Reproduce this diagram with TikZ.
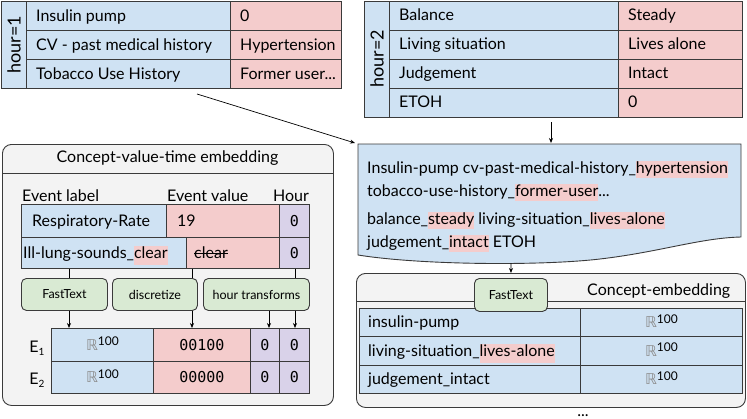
\documentclass[tikz,border=0pt]{standalone}
\usepackage{fontspec}
\setmainfont{Lato}
\setmonofont{DejaVu Sans Mono}
\newfontfamily\dvs{DejaVu Sans}
\usetikzlibrary{arrows.meta}
\definecolor{cblue}{HTML}{CFE2F3}
\definecolor{cpink}{HTML}{F4CCCC}
\definecolor{cpurp}{HTML}{D9D2E9}
\definecolor{cgreen}{HTML}{D9EAD3}
\definecolor{cgray}{HTML}{F3F3F3}
\definecolor{lineC}{HTML}{3A3A3A}
\newcommand\hl[1]{{\setlength{\fboxsep}{0pt}\colorbox{cpink}{\rule[-5pt]{0pt}{17pt}#1}}}
\newcommand\hlx[1]{{\setlength{\fboxsep}{0pt}\colorbox{cpink}{\rule[-6.5pt]{0pt}{19pt}#1}}}
\newcommand\strk[1]{\setbox0\hbox{#1}\rlap{\rule[4.2pt]{\wd0}{0.8pt}}\box0}
\newcommand\Rh{{\color{black!45}\fontsize{15}{15}\dvs ℝ}\raisebox{4.5pt}{\fontsize{12}{12}\selectfont 100}}
\newcommand\mono[1]{{\fontsize{15}{15}\ttfamily #1}}
\tikzset{
  cellbox/.style={draw=lineC, line width=0.9pt, rectangle, inner sep=0pt, anchor=north west},
  ctext/.style={inner sep=0pt, font=\fontsize{16}{19}\selectfont},
  greenbox/.style={draw=lineC, fill=cgreen, line width=0.9pt, rounded corners=5pt, inner sep=0pt, anchor=north west, font=\fontsize{12.5}{14}\selectfont},
  panel/.style={draw=lineC, fill=cgray, line width=0.9pt, rounded corners=9pt, inner sep=0pt, anchor=north west},
  arr/.style={-{Stealth[length=5pt,width=4pt]}, line width=0.7pt, draw=black},
  conn/.style={line width=0.7pt, draw=black},
}
\newcommand\cellL[8]{%
  \node[cellbox, fill=#6, minimum width=#4pt, minimum height=#5pt] (#1) at (#2,#3) {};
  \node[ctext, anchor=base west] (#1t) at ([xshift=#7pt, yshift=-5.5pt]#1.west) {#8};}
\newcommand\cellC[7]{%
  \node[cellbox, fill=#6, minimum width=#4pt, minimum height=#5pt] (#1) at (#2,#3) {};
  \node[ctext, anchor=base] (#1t) at ([yshift=-5.5pt]#1.center) {#7};}
\begin{document}
\begin{tikzpicture}[x=1pt, y=-1pt]
\useasboundingbox (0,0) rectangle (747,418);

% ---------- top-left table (hour=1)
\node[cellbox, fill=cblue, minimum width=25pt, minimum height=87pt] (h1) at (1,0.5) {};
\node[ctext, rotate=90, font=\fontsize{18}{20}\selectfont] (h1t) at (h1.center) {hour=1};
\cellL{a1}{26}{0.5}{204}{29.5}{cblue}{10}{Insulin pump}
\cellL{a2}{26}{30}{204}{29}{cblue}{10}{CV - past medical history}
\cellL{a3}{26}{59}{204}{28.5}{cblue}{10}{Tobacco Use History}
\cellL{b1}{230}{0.5}{111}{29.5}{cpink}{10}{0}
\cellL{b2}{230}{30}{111}{29}{cpink}{10}{Hypertension}
\cellL{b3}{230}{59}{111}{28.5}{cpink}{10}{Former user...}

% ---------- top-right table (hour=2)
\node[cellbox, fill=cblue, minimum width=25pt, minimum height=116pt] (h2) at (364,0.5) {};
\node[ctext, rotate=90, font=\fontsize{18}{20}\selectfont] (h2t) at (h2.center) {hour=2};
\cellL{c1}{389}{0.5}{229}{29}{cblue}{10}{Balance}
\cellL{c2}{389}{29.5}{229}{29}{cblue}{10}{Living situation}
\cellL{c3}{389}{58.5}{229}{29}{cblue}{10}{Judgement}
\cellL{c4}{389}{87.5}{229}{29}{cblue}{10}{ETOH}
\cellL{d1}{618}{0.5}{124}{29}{cpink}{10}{Steady}
\cellL{d2}{618}{29.5}{124}{29}{cpink}{10}{Lives alone}
\cellL{d3}{618}{58.5}{124}{29}{cpink}{10}{Intact}
\cellL{d4}{618}{87.5}{124}{29}{cpink}{10}{0}

% ---------- document shape
\path[draw=lineC, fill=cblue, line width=0.9pt] (358,144) -- (741,144) -- (741,237)
  .. controls (700,238) and (660,252) .. (600,259)
  .. controls (540,266) and (420,265) .. (358,255) -- cycle;
\node[ctext, anchor=north west, align=left, font=\fontsize{16}{23}\selectfont] (doct) at (367,161)
  {Insulin-pump cv-past-medical-history\_\hl{hypertension}\\
   tobacco-use-history\_\hl{former-user}...\\[5pt]
   balance\_\hl{steady} living-situation\_\hl{lives-alone}\\
   judgement\_\hl{intact} ETOH};
\coordinate (docTL) at (355,143);
\coordinate (docT) at (551,143);
\coordinate (docB) at (511,263);
\coordinate (t1out) at (197,94);
\coordinate (t2out) at (551,122);

% ---------- concept-value-time embedding panel
\node[panel, minimum width=331pt, minimum height=261pt] (cvt) at (2,144) {};
\draw[draw=lineC, line width=0.9pt] (2,173) -- (333,173);
\node[ctext] (cvtt) at (167.5,158.5) {Concept-value-time embedding};
\node[ctext, anchor=base west] (hdl) at (22,201) {Event label};
\node[ctext, anchor=base west] (hdv) at (167,201) {Event value};
\node[ctext, anchor=base east] (hdh) at (309,201) {Hour};

\cellL{r1a}{21}{204}{145}{33}{cblue}{11}{Respiratory-Rate}
\cellL{r1b}{166}{204}{113}{33}{cpink}{11}{19}
\cellC{r1c}{279}{204}{30}{33}{cpurp}{\mono{0}}
\cellL{r2a}{21}{237}{165}{31}{cblue}{2}{Ill-lung-sounds\_\hlx{clear}}
\cellL{r2b}{186}{237}{93}{31}{cpink}{8}{\strk{clear}}
\cellC{r2c}{279}{237}{30}{31}{cpurp}{\mono{0}}

\node[greenbox, minimum width=86pt, minimum height=32pt] (ft1) at (21,278) {FastText};
\node[greenbox, minimum width=85pt, minimum height=32pt] (disc) at (112,278) {discretize};
\node[greenbox, minimum width=106pt, minimum height=32pt] (ht) at (203,278) {hour transforms};

\coordinate (x69) at (69,0);
\coordinate (x192) at (192,0);
\coordinate (x269) at (269,0);
\coordinate (x295) at (295,0);

\draw[conn] (r2a.south -| x69) -- (ft1.north -| x69);
\draw[conn] (r2b.south -| x192) -- (disc.north -| x192);
\draw[conn] (r2c.south -| x295) -- (ht.north -| x295);

\cellC{e1a}{51}{328}{102}{33}{cblue}{\Rh}
\cellC{e1b}{153}{328}{97}{33}{cpink}{\mono{00100}}
\cellC{e1c}{250}{328}{29}{33}{cpurp}{\mono{0}}
\cellC{e1d}{279}{328}{30}{33}{cpurp}{\mono{0}}
\cellC{e2a}{51}{361}{102}{32}{cblue}{\Rh}
\cellC{e2b}{153}{361}{97}{32}{cpink}{\mono{00000}}
\cellC{e2c}{250}{361}{29}{32}{cpurp}{\mono{0}}
\cellC{e2d}{279}{361}{30}{32}{cpurp}{\mono{0}}
\node[ctext, anchor=base] (E1) at (37,352) {E\raisebox{-3pt}{\fontsize{10}{10}\selectfont 1}};
\node[ctext, anchor=base] (E2) at (37,384) {E\raisebox{-3pt}{\fontsize{10}{10}\selectfont 2}};

\draw[arr] (ft1.south -| x69) -- (e1a.north -| x69);
\draw[arr] (disc.south -| x192) -- (e1b.north -| x192);
\draw[arr] (ht.south -| x269) -- (e1c.north -| x269);
\draw[arr] (ht.south -| x295) -- (e1d.north -| x295);

% ---------- concept-embedding panel
\node[panel, minimum width=389pt, minimum height=134pt] (ce) at (356,273) {};
\draw[draw=lineC, line width=0.9pt] (356,301) -- (745,301);
\node[ctext, anchor=base west] (cet) at (587,295) {Concept-embedding};
\cellL{f1}{359}{308}{221}{28}{cblue}{9}{insulin-pump}
\cellL{f2}{359}{336}{221}{29}{cblue}{9}{living-situation\_\hlx{lives-alone}}
\cellL{f3}{359}{365}{221}{28}{cblue}{9}{judgement\_intact}
\cellC{g1}{580}{308}{162}{28}{cblue}{\Rh}
\cellC{g2}{580}{336}{162}{29}{cblue}{\Rh}
\cellC{g3}{580}{365}{162}{28}{cblue}{\Rh}
\node[greenbox, minimum width=73pt, minimum height=33pt] (ft2) at (474,278) {FastText};
\node[ctext, anchor=base] (dots) at (583,416) {...};

% ---------- arrows
\draw[arr] (t1out) -- (docTL);
\draw[arr] (t2out) -- (docT);
\draw[arr] (docB) -- (ft2.north |- ce.north);
\end{tikzpicture}
\end{document}
